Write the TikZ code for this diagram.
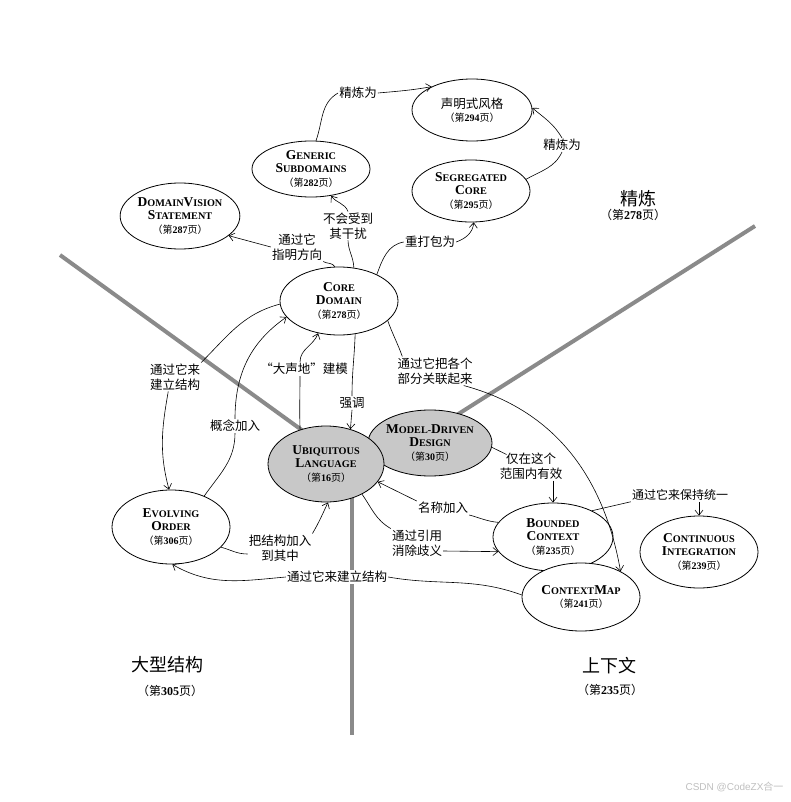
\documentclass[tikz,border=0pt]{standalone}
\usepackage{fontspec}
\setmainfont{Liberation Serif}
\setsansfont{Liberation Sans}
\newfontfamily\cjk{Noto Sans CJK SC}
\usetikzlibrary{shapes.geometric,arrows.meta}
\definecolor{divider}{HTML}{8A8A8A}
\definecolor{shade}{HTML}{C8C8C8}
\def\capl#1{{\fontsize{13.5}{13}\selectfont #1}}
\def\pgno#1{（第{\rmfamily\bfseries #1}页）}
\def\pg#1{{\fontsize{10}{11}\selectfont\mdseries\cjk\pgno{#1}}}

\begin{document}
\begin{tikzpicture}[x=1pt, y=-1pt,
          >={Straight Barb[length=5pt,width=8pt]},
          topic/.style = {shape=ellipse, draw, fill=white, line width=0.8pt,
          inner sep=0pt, align=center, font=\bfseries\fontsize{10.2}{13.5}\selectfont},
          core/.style = {topic, fill=shade},
          lbl/.style = {fill=white, inner sep=1pt, align=center,
          font=\cjk\fontsize{12.5}{15}\selectfont},
          link/.style = {line width=0.6pt},
          arrow/.style = {link, ->},
          divide/.style = {draw=divider, line width=4pt},
          region/.style = {font=\cjk\fontsize{18}{20}\selectfont},
          regionpg/.style = {font=\cjk\fontsize{12}{14}\selectfont}
          ]
          \useasboundingbox (0,0) rectangle (791,802);
          \draw[divide] (60,255) -- (310,436);
          \draw[divide] (755,226) -- (452,418);
          \draw[divide] (352,480) -- (352,735);

          \node[topic, minimum width=120, minimum height=62] (decl) at (472,110)
            {{\mdseries\cjk\fontsize{12.5}{15}\selectfont 声明式风格}\\\pg{294}};
          \node[topic, minimum width=118, minimum height=56] (gs) at (311,169)
            {\capl{G}ENERIC\\\capl{S}UBDOMAINS\\\pg{282}};
          \node[topic, minimum width=118, minimum height=62] (sc) at (471,191)
            {\capl{S}EGREGATED\\\capl{C}ORE\\\pg{295}};
          \node[topic, minimum width=118, minimum height=66] (dvs) at (180,216)
            {\capl{D}OMAIN\capl{V}ISION\\\capl{S}TATEMENT\\\pg{287}};
          \node[topic, minimum width=118, minimum height=68] (cd) at (339,301)
            {\capl{C}ORE\\\capl{D}OMAIN\\\pg{278}};
          \node[core, minimum width=120, minimum height=66] (mdd) at (430,443)
            {\capl{M}ODEL-\capl{D}RIVEN\\\capl{D}ESIGN\\\pg{30}};
          \node[core, minimum width=116, minimum height=76] (ul) at (326,464)
            {\capl{U}BIQUITOUS\\\capl{L}ANGUAGE\\\pg{16}};
          \node[topic, minimum width=118, minimum height=74] (eo) at (171,527)
            {\capl{E}VOLVING\\\capl{O}RDER\\\pg{306}};
          \node[topic, minimum width=120, minimum height=68] (bc) at (553,537)
            {\capl{B}OUNDED\\\capl{C}ONTEXT\\\pg{235}};
          \node[topic, minimum width=118, minimum height=68] (cm) at (581,597)
            {\capl{C}ONTEXT\capl{M}AP\\\pg{241}};
          \node[topic, minimum width=118, minimum height=72] (ci) at (699,552)
            {\capl{C}ONTINUOUS\\\capl{I}NTEGRATION\\\pg{239}};

          \node[lbl] (l1) at (358,93) {精炼为};
          \node[lbl] (l2) at (562,145) {精炼为};
          \node[lbl] (l3) at (297,247) {通过它\\指明方向};
          \node[lbl] (l4) at (348,226) {不会受到\\其干扰};
          \node[lbl] (l5) at (430,242) {重打包为};
          \node[lbl] (l6) at (175,377) {通过它来\\建立结构};
          \node[lbl] (l7) at (235,426) {概念加入};
          \node[lbl] (l8) at (304,369) {“大声地”建模};
          \node[lbl] (l9) at (352,403) {强调};
          \node[lbl] (l10) at (435,371) {通过它把各个\\部分关联起来};
          \node[lbl] (l11) at (531,466) {仅在这个\\范围内有效};
          \node[lbl] (l12) at (443,508) {名称加入};
          \node[lbl] (l13) at (417,543) {通过引用\\消除歧义};
          \node[lbl] (l14) at (280,548) {把结构加入\\到其中};
          \node[lbl] (l15) at (337,577) {通过它来建立结构};
          \node[lbl, font=\cjk\fontsize{12}{14}\selectfont] (l16) at (680,495) {通过它来保持统一};

          \draw[link] (gs.80) to[out=70,in=210] (l1.west);
          \draw[arrow] (l1.east) to[out=5,in=190] (decl.150);
          \draw[link] (sc.12) to[out=30,in=-115] (l2.south);
          \draw[arrow] (l2.north) to[out=120,in=-40] (decl.2);
          \draw[link] (cd.97) to[out=120,in=-30] (l3.south east);
          \draw[arrow] (l3.west) -- (dvs.-22);
          \draw[link] (cd.66) to[out=92,in=-88] (l4.south);
          \draw[arrow] (l4.north) to[out=110,in=-55] (gs.-53);
          \draw[link] (cd.35) to[out=70,in=190] (l5.west);
          \draw[arrow] (l5.east) to[out=20,in=-95] (sc.-85);
          \draw[link] (cd.183) to[out=195,in=45] (l6.north east);
          \draw[arrow] (l6.-115) to[out=-100,in=105] (eo.93);
          \draw[link] (eo.43) to[out=55,in=-90] (l7.south);
          \draw[arrow] (l7.north) to[out=90,in=215] (cd.197);
          \draw[link] (ul.127) to[out=92,in=-90] ([xshift=-4pt]l8.south);
          \draw[arrow] ([xshift=-4pt]l8.north) to[out=90,in=-110] (cd.237);
          \draw[link] (cd.-64) to[out=-92,in=90] (l9.north);
          \draw[arrow] (l9.south) -- (ul.55);
          \draw[link] (cd.-22) to[out=-70,in=110] ([xshift=6pt]l10.north west);
          \draw[arrow] ([xshift=-10pt]l10.south east) to[out=-15,in=100] (cm.33);
          \draw[link] (mdd.-4) -- ([xshift=8pt,yshift=-3pt]l11.north west);
          \draw[arrow] (l11.south -| bc.north) -- (bc.north);
          \draw[link] (bc.165) to[out=175,in=-15] (l12.south east);
          \draw[arrow] (l12.north west) -- (ul.-19);
          \draw[link] (ul.-40) to[out=-55,in=150] (l13.north west);
          \draw[arrow] ([yshift=-8pt]l13.east) -- (bc.195);
          \draw[link] (eo.-22) to[out=-15,in=180] ([yshift=-6pt]l14.west);
          \draw[arrow] (l14.north east) to[out=60,in=-115] (ul.-87);
          \draw[link] (cm.178) to[out=160,in=-10] (l15.east);
          \draw[arrow] (l15.west) to[out=185,in=-30] (eo.-88);
          \draw[link] (bc.34) -- (l16.south west);
          \draw[arrow] (l16.south -| ci.north) -- (ci.north);

          \node[region] (refine) at (638,199) {精炼};
          \node[regionpg] (refinepg) at (633,215) {\pgno{278}};
          \node[region] (large) at (167,665) {大型结构};
          \node[regionpg] (largepg) at (170,691) {\pgno{305}};
          \node[region] (context) at (609,666) {上下文};
          \node[regionpg] (contextpg) at (610,690) {\pgno{235}};
          \node[anchor=east, text=black!25, font=\sffamily\fontsize{10}{12}\selectfont] (mark)
            at (787,787) {CSDN @CodeZX{\cjk 合一}};
         \end{tikzpicture}
\end{document}
